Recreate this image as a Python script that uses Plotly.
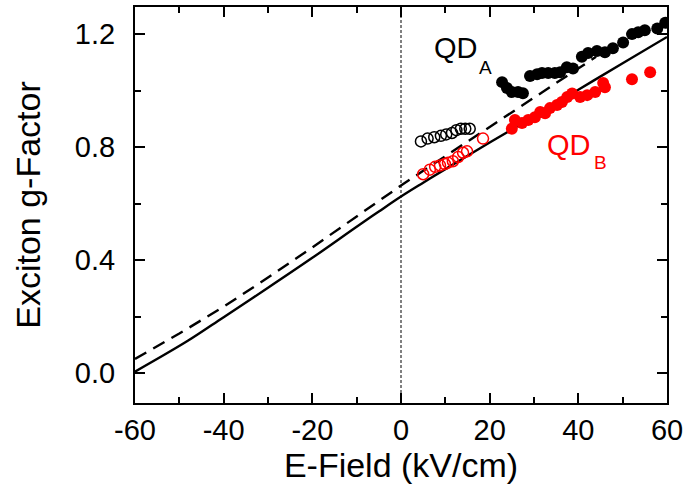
import plotly.graph_objects as go

# Model curves
solid_x = [-60, -48, -40, -30, -20, -10, -5, 0, 5, 10, 20, 30, 40, 50, 60]
solid_y = [0.005, 0.115, 0.198, 0.302, 0.408, 0.518, 0.572, 0.625, 0.674, 0.722, 0.816, 0.909, 1.003, 1.097, 1.19]
dashed_x = [-60, -50, -40, -30, -20, -10, -5, 0, 5, 10, 20, 30, 40, 44]
dashed_y = [0.05, 0.14, 0.235, 0.338, 0.445, 0.555, 0.61, 0.664, 0.716, 0.768, 0.872, 0.976, 1.08, 1.12]

# QD A open (black)
qa_open_x = [4.5, 6.0, 7.5, 9.0, 10.2, 11.5, 12.5, 13.5, 14.5, 15.5]
qa_open_y = [0.82, 0.83, 0.835, 0.84, 0.845, 0.85, 0.86, 0.865, 0.865, 0.865]
# QD A filled (black)
qa_fill_x = [22.8, 23.9, 25.0, 26.4, 27.5, 29.1, 30.7, 31.8, 33.2, 34.7, 35.9, 37.4, 38.8,
             40.8, 42.2, 44.2, 46.0, 47.8, 50.1, 52.1, 53.5, 55.0, 57.8, 59.6]
qa_fill_y = [1.03, 1.009, 0.995, 0.995, 0.991, 1.052, 1.058, 1.062, 1.062, 1.062, 1.065, 1.083, 1.078,
             1.12, 1.133, 1.14, 1.136, 1.15, 1.17, 1.2, 1.207, 1.214, 1.22, 1.24]
# QD B open (red)
qb_open_x = [5.0, 6.5, 7.7, 8.8, 9.9, 10.6, 11.7, 12.9, 14.0, 14.9, 18.5]
qb_open_y = [0.704, 0.72, 0.73, 0.735, 0.74, 0.745, 0.75, 0.765, 0.78, 0.785, 0.83]
# QD B filled (red)
qb_fill_x = [25.0, 25.7, 27.3, 28.7, 30.2, 31.4, 32.5, 33.6, 35.2, 36.3, 37.5, 38.6,
             40.4, 42.0, 43.8, 45.6, 46.0, 52.1, 56.2]
qb_fill_y = [0.865, 0.896, 0.885, 0.896, 0.906, 0.924, 0.92, 0.938, 0.949, 0.96, 0.977, 0.99,
             0.977, 0.984, 0.995, 1.027, 1.012, 1.04, 1.065]

x_ticks = [-60, -40, -20, 0, 20, 40, 60]
x_ticklabels = ["-60", "-40", "-20", "0", "20", "40", "60"]
y_ticks = [0.0, 0.4, 0.8, 1.2]
y_ticklabels = ["0.0", "0.4", "0.8", "1.2"]

FONT = "Liberation Sans, Arial, sans-serif"

fig = go.Figure()
fig.add_trace(go.Scatter(x=dashed_x, y=dashed_y, mode="lines",
                         line=dict(color="black", width=2.4, dash="13px,8px"), showlegend=False))
fig.add_trace(go.Scatter(x=solid_x, y=solid_y, mode="lines", line_shape="spline",
                         line=dict(color="black", width=2.4), showlegend=False))
fig.add_trace(go.Scatter(x=qa_open_x, y=qa_open_y, mode="markers",
                         marker=dict(symbol="circle-open", size=11, color="black", line=dict(width=1.5)),
                         showlegend=False))
fig.add_trace(go.Scatter(x=qb_open_x, y=qb_open_y, mode="markers",
                         marker=dict(symbol="circle-open", size=11, color="red", line=dict(width=1.5)),
                         showlegend=False))
fig.add_trace(go.Scatter(x=qa_fill_x, y=qa_fill_y, mode="markers",
                         marker=dict(symbol="circle", size=12, color="black", line=dict(width=0)),
                         showlegend=False))
fig.add_trace(go.Scatter(x=qb_fill_x, y=qb_fill_y, mode="markers",
                         marker=dict(symbol="circle", size=12, color="red", line=dict(width=0)),
                         showlegend=False))

fig.add_shape(type="line", x0=0, x1=0, y0=0, y1=1, xref="x", yref="paper",
              line=dict(color="black", width=1, dash="3px,2px"))

# Labels: main text plus separate lowered subscript
fig.add_annotation(x=7.0, y=1.150, xref="x", yref="y", text="QD", showarrow=False,
                   xanchor="left", yanchor="middle", font=dict(family=FONT, size=29, color="black"))
fig.add_annotation(x=19.1, y=1.081, xref="x", yref="y", text="A", showarrow=False,
                   xanchor="center", yanchor="middle", font=dict(family=FONT, size=19, color="black"))
fig.add_annotation(x=32.5, y=0.807, xref="x", yref="y", text="QD", showarrow=False,
                   xanchor="left", yanchor="middle", font=dict(family=FONT, size=29, color="red"))
fig.add_annotation(x=45.1, y=0.745, xref="x", yref="y", text="B", showarrow=False,
                   xanchor="center", yanchor="middle", font=dict(family=FONT, size=19, color="red"))

axis_common = dict(showline=True, linecolor="black", linewidth=2, mirror="allticks",
                   ticks="inside", ticklen=10, tickwidth=1.8, tickcolor="black",
                   showgrid=False, zeroline=False, automargin=False,
                   tickfont=dict(family=FONT, size=29, color="black"))

fig.update_xaxes(range=[-60, 60], tickmode="array", tickvals=x_ticks, ticktext=x_ticklabels,
                 minor=dict(ticks="inside", ticklen=6, dtick=10, tick0=-60, tickwidth=1.8, tickcolor="black"),
                 title=dict(text="E-Field (kV/cm)", font=dict(family=FONT, size=34, color="black"), standoff=0),
                 ticklabelstandoff=0, **axis_common)
fig.update_yaxes(range=[-0.106, 1.296], tickmode="array", tickvals=y_ticks, ticktext=y_ticklabels,
                 minor=dict(ticks="inside", ticklen=6, dtick=0.2, tick0=0, tickwidth=1.8, tickcolor="black"),
                 title=dict(text="Exciton g-Factor", font=dict(family=FONT, size=34, color="black"), standoff=24),
                 ticklabelstandoff=12, **axis_common)

fig.update_layout(width=686, height=491, margin=dict(l=135, r=19, t=7, b=88),
                  plot_bgcolor="white", paper_bgcolor="white")

fig.write_html("out.html")
